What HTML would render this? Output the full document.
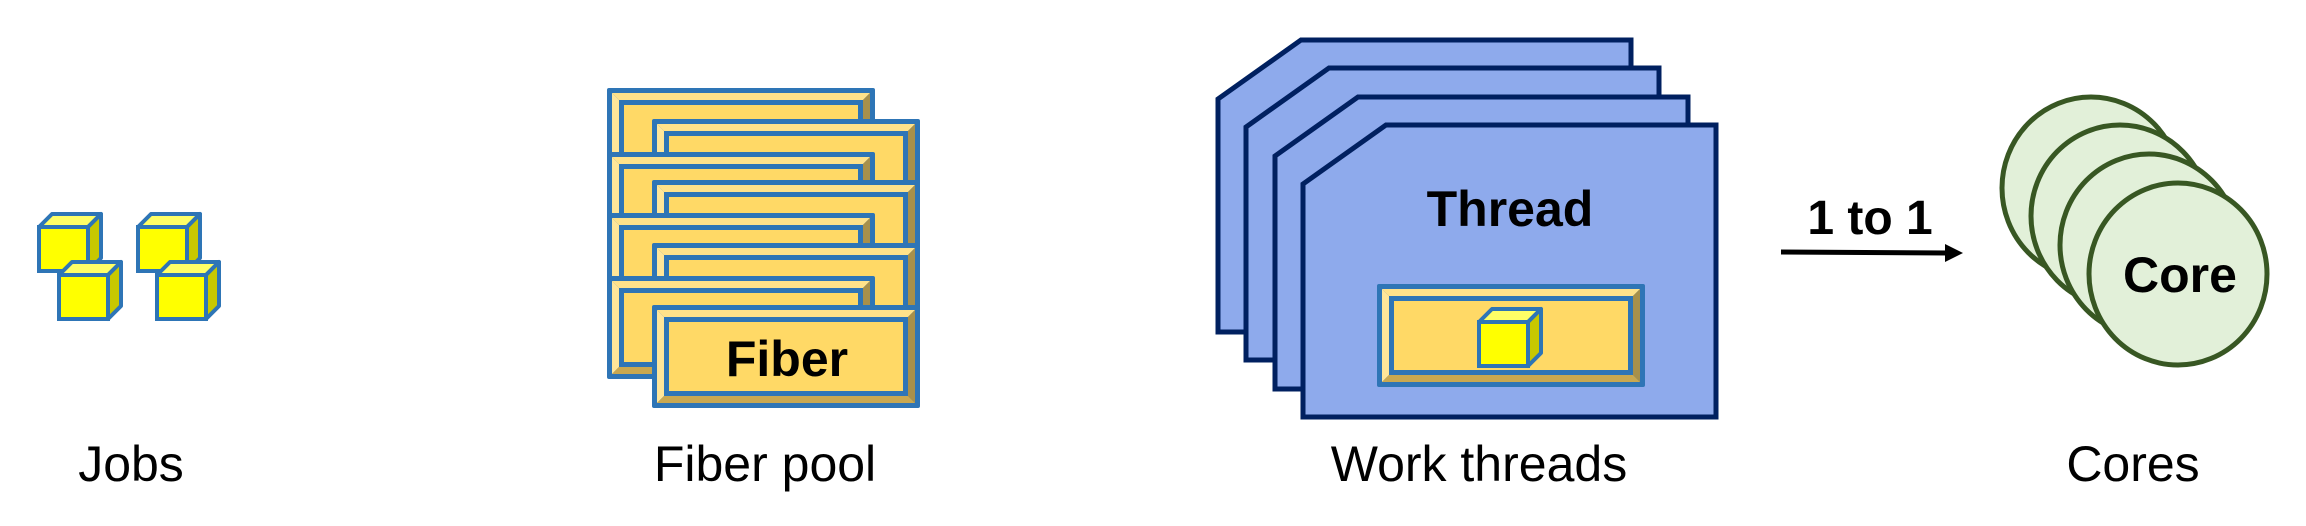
<!DOCTYPE html>
<html><head><meta charset="utf-8"><style>
html,body{margin:0;padding:0;background:#fff;}
svg{display:block;}
text{font-family:"Liberation Sans",Arial,sans-serif;}
</style></head><body>
<svg width="2306" height="526" viewBox="0 0 2306 526" xmlns="http://www.w3.org/2000/svg">
<defs>
<g id="cube">
  <polygon points="2,15 15,2 64,2 51,15" fill="#ffff66" stroke="#2e75b6" stroke-width="4" stroke-linejoin="round"/>
  <polygon points="51,15 64,2 64,46 51,59" fill="#c8c800" stroke="#2e75b6" stroke-width="4" stroke-linejoin="round"/>
  <rect x="2" y="15" width="49" height="44" fill="#ffff00" stroke="#2e75b6" stroke-width="4"/>
</g>
<g id="frame">
  <rect x="0" y="0" width="268" height="103" rx="2" fill="#2e75b6"/>
  <polygon points="5,5 263,5 256,12 12,12" fill="#ffe28a"/>
  <polygon points="5,5 12,12 12,91 5,98" fill="#ffe699"/>
  <polygon points="263,5 263,98 256,91 256,12" fill="#a8904a"/>
  <polygon points="5,98 12,91 256,91 263,98" fill="#c9a850"/>
  <rect x="14.5" y="14.5" width="239" height="74" fill="#ffd966" stroke="#2e75b6" stroke-width="5"/>
</g>
<g id="thread">
  <polygon points="0,59 83,0 413,0 413,292 0,292" fill="#8eaaec" stroke="#002060" stroke-width="5" stroke-linejoin="miter"/>
</g>
<g id="core">
  <ellipse cx="0" cy="0" rx="89" ry="91" fill="#e2f0d9" stroke="#385723" stroke-width="5"/>
</g>
</defs>

<!-- Jobs -->
<use href="#cube" x="37" y="212"/>
<use href="#cube" x="57" y="260"/>
<use href="#cube" x="136" y="212"/>
<use href="#cube" x="155" y="260"/>
<text x="131" y="481" font-size="50" text-anchor="middle">Jobs</text>

<!-- Fiber pool -->
<use href="#frame" x="607" y="88"/>
<use href="#frame" x="652" y="119"/>
<use href="#frame" x="607" y="152"/>
<use href="#frame" x="652" y="180"/>
<use href="#frame" x="607" y="213"/>
<use href="#frame" x="652" y="243"/>
<use href="#frame" x="607" y="276"/>
<use href="#frame" x="652" y="305"/>
<text x="787" y="376" font-size="50" font-weight="bold" text-anchor="middle">Fiber</text>
<text x="765" y="481" font-size="50" text-anchor="middle">Fiber pool</text>

<!-- Threads -->
<use href="#thread" x="1218" y="40"/>
<use href="#thread" x="1246" y="68"/>
<use href="#thread" x="1275" y="97"/>
<use href="#thread" x="1303" y="125"/>
<text x="1510" y="226" font-size="50" font-weight="bold" text-anchor="middle">Thread</text>
<use href="#frame" x="1377" y="284"/>
<use href="#cube" x="1477" y="307"/>
<text x="1479" y="481" font-size="50" text-anchor="middle">Work threads</text>

<!-- Arrow -->
<line x1="1781" y1="252" x2="1948" y2="253" stroke="#000" stroke-width="5"/>
<polygon points="1945,244 1963,253 1945,262" fill="#000"/>
<text x="1870" y="234" font-size="48" font-weight="bold" text-anchor="middle">1 to 1</text>

<!-- Cores -->
<use href="#core" x="2091" y="188"/>
<use href="#core" x="2120" y="216"/>
<use href="#core" x="2149" y="245"/>
<use href="#core" x="2178" y="274"/>
<text x="2180" y="292" font-size="50" font-weight="bold" text-anchor="middle">Core</text>
<text x="2133" y="481" font-size="50" text-anchor="middle">Cores</text>
</svg>
</body></html>
